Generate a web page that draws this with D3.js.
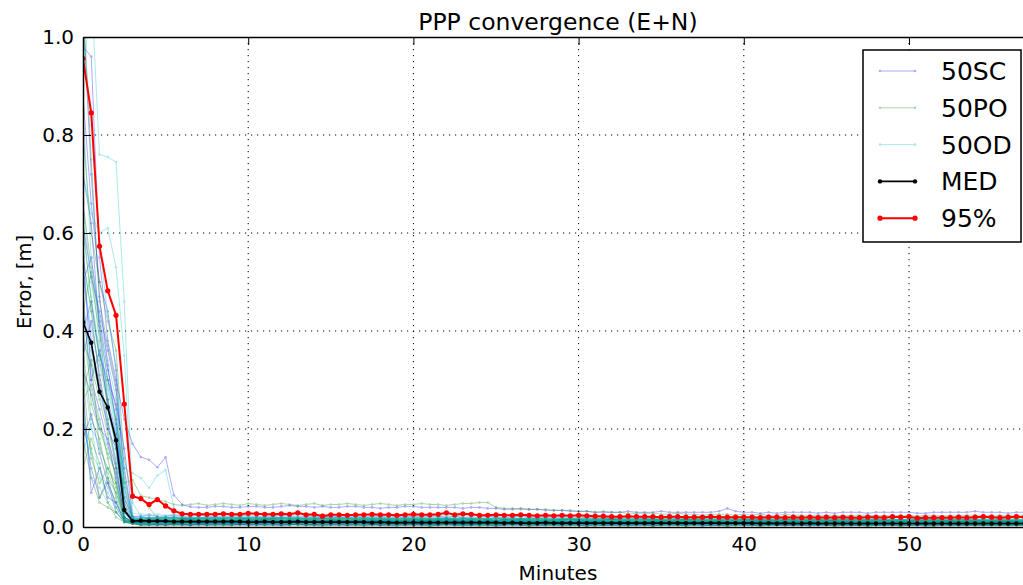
<!DOCTYPE html>
<html>
<head>
<meta charset="utf-8">
<script src="https://cdn.jsdelivr.net/npm/d3@7"></script>
<style>
  body { margin: 0; background: #fff; }
  svg { display: block; font-family: "DejaVu Sans", sans-serif; }
</style>
</head>
<body>
<div id="chart"></div>
<script>
// sampling step of every series, minutes
const step = 0.5;

const xTicks = [0, 10, 20, 30, 40, 50];
const yTicks = [0.0, 0.2, 0.4, 0.6, 0.8, 1.0];
const legendNames = ['50SC', '50PO', '50OD', 'MED', '95%'];

// median of all runs, metres, every 0.5 min from 0
const med = [
  0.418, 0.376, 0.276, 0.244, 0.177, 0.035, 0.012, 0.013, 0.012, 0.012,
  0.012, 0.011, 0.011, 0.011, 0.011, 0.011, 0.011, 0.011, 0.011, 0.011,
  0.010, 0.010, 0.011, 0.010, 0.010, 0.010, 0.011, 0.010, 0.010, 0.010,
  0.010, 0.010, 0.010, 0.010, 0.010, 0.009, 0.010, 0.009, 0.009, 0.009,
  0.009, 0.009, 0.009, 0.009, 0.009, 0.009, 0.009, 0.009, 0.009, 0.009,
  0.009, 0.008, 0.009, 0.008, 0.008, 0.008, 0.009, 0.008, 0.008, 0.008,
  0.008, 0.008, 0.008, 0.008, 0.008, 0.008, 0.008, 0.008, 0.008, 0.008,
  0.008, 0.008, 0.008, 0.008, 0.008, 0.008, 0.008, 0.008, 0.008, 0.008,
  0.008, 0.008, 0.007, 0.008, 0.007, 0.008, 0.007, 0.007, 0.008, 0.007,
  0.007, 0.007, 0.007, 0.007, 0.007, 0.007, 0.007, 0.007, 0.007, 0.007,
  0.007, 0.007, 0.007, 0.007, 0.007, 0.007, 0.007, 0.007, 0.007, 0.007,
  0.007, 0.007, 0.007, 0.007, 0.007, 0.007
];

// 95th percentile, metres
const p95 = [
  0.956, 0.845, 0.573, 0.482, 0.432, 0.251, 0.063, 0.058, 0.046, 0.056,
  0.043, 0.033, 0.027, 0.026, 0.026, 0.026, 0.026, 0.027, 0.026, 0.026,
  0.028, 0.027, 0.026, 0.026, 0.027, 0.026, 0.029, 0.025, 0.026, 0.022,
  0.025, 0.025, 0.024, 0.025, 0.025, 0.026, 0.025, 0.025, 0.024, 0.025,
  0.026, 0.025, 0.025, 0.026, 0.029, 0.025, 0.027, 0.026, 0.024, 0.024,
  0.025, 0.024, 0.024, 0.025, 0.024, 0.023, 0.024, 0.023, 0.024, 0.023,
  0.024, 0.023, 0.022, 0.022, 0.021, 0.021, 0.022, 0.021, 0.021, 0.021,
  0.020, 0.021, 0.021, 0.020, 0.020, 0.020, 0.021, 0.020, 0.020, 0.020,
  0.020, 0.020, 0.019, 0.020, 0.020, 0.019, 0.020, 0.019, 0.020, 0.019,
  0.020, 0.019, 0.020, 0.019, 0.019, 0.020, 0.020, 0.019, 0.021, 0.020,
  0.021, 0.018, 0.019, 0.019, 0.019, 0.019, 0.020, 0.019, 0.020, 0.021,
  0.020, 0.019, 0.020, 0.021, 0.020, 0.019
];

// single runs: first values in metres, then the converged tail
// written one char per sample in base 36, unit = 2 mm
const runsSC = [
  [[0.98, 0.96, 0.55, 0.38, 0.30, 0.22, 0.17, 0.143, 0.137, 0.122, 0.142, 0.065, 0.046, 0.041],
   'kkllkkllkk lmllklkkll kkjkkllkkk kkjkkjjiij iihhhgggff ffgfffgfff fffgjgffef effffefeff fefffffeef ffffgfffef ffffffffff'],
  [[1.05, 0.72, 0.47, 0.33, 0.21, 0.030, 0.016],
   '8787678776 7677687767 6767766776 6676677667 6656676656 6566566566 5656655665 5565565556 5655565565 5556555655 5555555555'],
  [[0.62, 0.51, 0.44, 0.36, 0.28, 0.12, 0.014],
   '5545455454 5454554545 4545545454 4454454544 4445444544 4444544444 4434444434 4444344443 4434444434 4443444344 4444444444'],
  [[0.45, 0.30, 0.24, 0.17, 0.10, 0.020, 0.010],
   '4434434344 3434434433 3343343433 3334333433 3343333343 3333333333 3233332333 3332333323 3323333233 3332333323 3333333333'],
  [[0.35, 0.42, 0.31, 0.22, 0.13, 0.018, 0.009],
   '3332332323 3233233232 2323323232 2232322322 2322232222 2222322222 2222222322 2222222222 2232222222 2222232222 2222222222'],
  [[0.28, 0.07, 0.12, 0.06, 0.05, 0.012, 0.011],
   '6676676767 6767667676 6667667666 6666766666 5666566656 6565656565 5565565556 5556555565 5555655555 5565555556 5555555555'],
  [[0.72, 0.62, 0.40, 0.26, 0.19, 0.060, 0.020],
   'a9a9a99a9a 9a99a99a99 9999a99999 8999899989 8989889898 8888988888 8878887888 7888788787 8787787878 7787787778 7777777777'],
  [[0.52, 0.38, 0.29, 0.20, 0.16, 0.030, 0.008],
   '5655655656 5565565565 5556555655 5555655555 5554555455 5455455454 4545545454 4544545445 4454454444 4544445444 4444444444'],
  [[0.18, 0.23, 0.15, 0.09, 0.03, 0.010, 0.007],
   '2222322222 2232222223 2222222222 2222222222 2221222222 2222122222 2222222212 2222222222 2122222222 2222212222 2222222222'],
  [[0.40, 0.46, 0.35, 0.30, 0.25, 0.16, 0.022],
   'bcbbcbbcbb bbcbbbbcbb bbbabbbabb abababbaba aabaaabaaa aaaaaaaaaa a9aaa9aa9a a9aa9aaa9a 9aa9aa9aa9 a9a9aa9a9a aaaaaaaaaa'],
  [[0.58, 0.30, 0.36, 0.25, 0.18, 0.050, 0.012],
   '4444344434 4434444344 4443444434 4344434443 3443434434 3434343434 3343433434 3343343343 3333433333 3334333333 3333333333'],
  [[0.22, 0.12, 0.06, 0.09, 0.05, 0.012, 0.008],
   '3323332333 3332333233 3233323332 3323232323 2323232322 3232232232 2322322322 2232223222 2222322222 2222222322 2222222222'],
  [[0.88, 0.66, 0.50, 0.44, 0.32, 0.080, 0.016],
   '7877787778 7787778777 7777777777 7677767776 7676767676 6767676766 6676667666 6666766666 6666666566 6566656665 6666666666'],
  [[0.32, 0.27, 0.20, 0.18, 0.12, 0.020, 0.010],
   '5555655555 5655555655 5555555555 5455545554 5454545454 4545454545 4454454544 4445444544 4444544444 4444444544 4444444444'],
  [[0.50, 0.55, 0.42, 0.32, 0.24, 0.030, 0.014],
   '6667666766 6766676667 6666666666 6566656665 6565656565 5656565656 5565556555 5556555565 5555655555 5555565555 5555555555']
];

const runsPO = [
  [[0.55, 0.44, 0.30, 0.21, 0.12, 0.09, 0.096],
   'wusqnmnomn onmonmnonm nomnnonmno nmnnonnmno oppkjjiiii hhhggfgffe eeeddeddcd ddcdcdccdc cccccbcccb cbccbccbcc cccccccccc'],
  [[0.80, 0.60, 0.50, 0.42, 0.36, 0.14, 0.060],
   'uk9a898988 9898898989 8898898888 8888788878 8787787877 7787777877 7777677776 7677767677 6776767767 7676676767 6666666666'],
  [[0.30, 0.14, 0.09, 0.12, 0.08, 0.015, 0.010],
   '4544545445 4454454544 4445444544 4444544443 4344434444 3444434443 4343443434 3434343434 3343433434 3343343343 3333333333'],
  [[0.48, 0.25, 0.20, 0.15, 0.11, 0.030, 0.012],
   '7676676766 6766766676 6666766666 6665666656 6566656565 5656565656 5565556555 5556555565 5555655555 5555565555 5555555555'],
  [[0.22, 0.16, 0.06, 0.10, 0.04, 0.012, 0.008],
   '3334333433 3343334333 3333433333 3333333333 3233333233 3323332332 3232323232 2323232322 3232232232 2322322322 2222222222'],
  [[0.66, 0.53, 0.41, 0.30, 0.22, 0.10, 0.020],
   '8988989898 8898889888 8888888888 7888788878 7877878777 7787777877 7777677776 7677767677 6776767767 6766767676 6666666666'],
  [[1.08, 0.75, 0.46, 0.37, 0.29, 0.040, 0.014],
   '5556555655 5555565555 5455545554 5455454545 4545545454 4544544545 4454454444 4544445444 4444544444 4445444444 4444444444'],
  [[0.12, 0.18, 0.13, 0.05, 0.02, 0.010, 0.006],
   '2222222222 2222222222 2212222122 2222212222 2122222122 2222122212 2212221222 2122212222 2222122212 2212221222 2222222222'],
  [[0.38, 0.33, 0.26, 0.19, 0.09, 0.020, 0.011],
   '7787778777 7777877777 7777777677 7677767776 7676767676 6767676766 6676667666 6666766666 6566656666 6656665666 6666666666'],
  [[0.26, 0.29, 0.22, 0.14, 0.06, 0.014, 0.009],
   '9999a99999 99a9999a99 9999999999 9899989899 8989898988 8898889888 8888888888 8878887888 8787878787 7877878778 7777777777'],
  [[0.36, 0.22, 0.18, 0.10, 0.07, 0.020, 0.010],
   '4445444454 4454445444 4444444444 4344434443 4343434343 3434343434 3343433434 3343343343 3333433333 3333334333 3333333333'],
  [[0.18, 0.10, 0.05, 0.04, 0.03, 0.010, 0.007],
   '2232222322 2222322223 2222222222 2122212221 2221222122 2122212221 2212221222 2122212222 2222122212 2212221222 2222222222'],
  [[0.62, 0.46, 0.34, 0.26, 0.16, 0.035, 0.012],
   '6676667666 6667666766 6666666666 6566656665 6566565656 5656565656 5565556555 5556555565 5555655555 5555565555 5555555555'],
  [[0.44, 0.52, 0.38, 0.24, 0.17, 0.060, 0.015],
   '8898889888 8889888988 8888888888 8788878887 8787878787 7878787877 7787778777 7777877777 7777777677 7677767776 7777777777'],
  [[0.28, 0.34, 0.16, 0.12, 0.09, 0.015, 0.009],
   '5565556555 5556555655 5555555555 5455545554 5454545454 4545454545 4454454544 4445444544 4444544444 4444444544 4444444444']
];

const runsOD = [
  [[0.90, 1.10, 0.76, 0.755, 0.745, 0.46, 0.050],
   'b98a9a99a9 a99a9a99a9 9a99a9a99a 9999a99999 9899989899 8989898988 8898889888 8888888888 8878887888 8787878787 8888888888'],
  [[0.72, 0.64, 0.60, 0.61, 0.53, 0.35, 0.028],
   'dddcdcdddc dcdcddcdcd ccdcccdccc cbccbcccbc bcbbcbbcbb bbbcbbbbbb bbabbbabbb babbabbabb abbabababb aababaabaa aaaaaaaaaa'],
  [[0.52, 0.40, 0.33, 0.25, 0.18, 0.12, 0.11, 0.10, 0.08, 0.105, 0.116, 0.040],
   'a9a9a9aa9a 9a9aa9a9a9 99a999a999 9899989899 8989898988 8898889888 8888888888 8878887888 8787878787 7877878778 7777777777'],
  [[0.42, 0.36, 0.27, 0.21, 0.14, 0.030, 0.012],
   '6666766666 6676666766 6666666666 6566656665 6566565656 5656565656 5565556555 5556555565 5555655555 5555565555 5555555555'],
  [[0.33, 0.20, 0.17, 0.11, 0.07, 0.016, 0.010],
   '5555455555 5455554555 5545554555 4555455545 4545454545 4454454544 4445444544 4444544444 4444445444 4444444544 4444444444'],
  [[0.60, 0.47, 0.36, 0.28, 0.20, 0.050, 0.015],
   '8889888988 8988898888 8888888888 8788878887 8787877878 7787778777 7777877777 7777777677 7677767776 7676767676 7777777777'],
  [[0.25, 0.10, 0.08, 0.05, 0.03, 0.012, 0.009],
   '4444444454 4445444444 4444444444 4344434443 4343434434 3434343434 3343433434 3343343343 3333433333 3333334333 3333333333'],
  [[0.85, 0.55, 0.43, 0.34, 0.26, 0.080, 0.018],
   '7777877777 7787777787 7777777777 7677767776 7677676767 6767676766 6676667666 6666766666 6666666566 6566656665 6666666666'],
  [[0.46, 0.34, 0.28, 0.24, 0.16, 0.040, 0.014],
   'aaaabaaaaa aabaaaabaa aaaaaaaaaa 9aaa9aaa9a 9a9a9a9a99 9999a99999 9899989899 8989898988 8898889888 8888888888 8888888888'],
  [[0.15, 0.21, 0.10, 0.07, 0.04, 0.011, 0.008],
   '3333343333 3343333333 3333333333 3233323332 3323323232 3232323232 2323232322 3232232232 2322322322 2232223222 2222222222'],
  [[0.40, 0.28, 0.21, 0.16, 0.11, 0.020, 0.011],
   '5556555655 5565556555 5555555555 5455545554 5545454545 4545454545 4454454544 4445444544 4444544444 4444444544 4444444444'],
  [[0.66, 0.50, 0.40, 0.30, 0.22, 0.070, 0.017],
   '9a999a9999 99a999a999 9999999999 9899989998 8989898989 8898889888 8888888888 8878887888 8787878787 7877878778 8888888888'],
  [[0.20, 0.15, 0.12, 0.08, 0.05, 0.013, 0.008],
   '3334333433 3343334333 3333333333 3233323332 3232323232 2323232323 2232223222 2223222232 2222322222 2222222322 2222222222'],
  [[0.55, 0.44, 0.35, 0.29, 0.21, 0.090, 0.020],
   '7778777877 7787778777 7777777777 7677767776 7676767676 6767676766 6676667666 6666766666 6666666566 6566656665 6666666666'],
  [[1.02, 0.82, 0.58, 0.43, 0.33, 0.11, 0.016],
   '6667666766 6676667666 6666666666 6566656665 6565656565 5656565656 5565556555 5556555565 5555655555 5555565555 5555555555']
];

const decodeRun = run => {
  const tail = run[1].replace(/ /g, '').split('').map(c => parseInt(c, 36) * 0.002);
  return run[0].concat(tail);
};

const W = 1023, H = 585;
const margin = {left: 83, top: 37, bottom: 58};
const tMax = 57.5;

const svg = d3.select('#chart')
  .append('svg')
  .attr('width', W)
  .attr('height', H);

const x = d3.scaleLinear().domain([0, tMax]).range([margin.left, margin.left + tMax * 16.52]);
const y = d3.scaleLinear().domain([0, 1]).range([H - margin.bottom, margin.top]);

const x0 = x.range()[0], x1 = x.range()[1];
const y0 = y.range()[0], y1 = y.range()[1];

svg.append('defs').append('clipPath').attr('id', 'plotclip')
  .append('rect')
  .attr('x', x0).attr('y', y1)
  .attr('width', x1 - x0).attr('height', y0 - y1);

// grid
const grid = svg.append('g')
  .attr('stroke', '#000')
  .attr('stroke-width', 1)
  .attr('stroke-dasharray', '1.2,4.8');
grid.selectAll('.gx').data(xTicks.slice(1)).enter().append('line')
  .attr('x1', d => x(d)).attr('x2', d => x(d))
  .attr('y1', y1).attr('y2', y0);
grid.selectAll('.gy').data(yTicks.slice(1, -1)).enter().append('line')
  .attr('x1', x0).attr('x2', x1)
  .attr('y1', d => y(d)).attr('y2', d => y(d));

const line = d3.line()
  .x((d, i) => x(i * step))
  .y(d => y(d));

const plot = svg.append('g').attr('clip-path', 'url(#plotclip)');

const drawRuns = (runs, color) => {
  runs.forEach(run => {
    const vals = decodeRun(run).filter((d, i) => i * step <= tMax);
    const g = plot.append('g').attr('opacity', 0.32);
    g.append('path')
      .datum(vals)
      .attr('d', line)
      .attr('fill', 'none')
      .attr('stroke', color)
      .attr('stroke-width', 1);
    g.selectAll('circle').data(vals).enter().append('circle')
      .attr('cx', (d, i) => x(i * step))
      .attr('cy', d => y(d))
      .attr('r', 1.3)
      .attr('fill', color);
  });
};

drawRuns(runsSC, '#0000ff');
drawRuns(runsPO, '#008000');
drawRuns(runsOD, '#00bfbf');

const drawStat = (vals, color, width, r) => {
  plot.append('path')
    .datum(vals)
    .attr('d', line)
    .attr('fill', 'none')
    .attr('stroke', color)
    .attr('stroke-width', width);
  plot.append('g').selectAll('circle').data(vals).enter().append('circle')
    .attr('cx', (d, i) => x(i * step))
    .attr('cy', d => y(d))
    .attr('r', r)
    .attr('fill', color);
};

drawStat(med, '#000', 1.6, 2.2);
drawStat(p95, '#ff0000', 2, 2.6);

// axes, ticks pointing inside
const bottomAxis = d3.axisBottom(x).tickValues(xTicks).tickFormat(d3.format('d'))
  .tickSizeInner(-8).tickSizeOuter(0).tickPadding(10);
const topAxis = d3.axisTop(x).tickValues(xTicks).tickFormat('')
  .tickSizeInner(-8).tickSizeOuter(0);
const leftAxis = d3.axisLeft(y).tickValues(yTicks).tickFormat(d3.format('.1f'))
  .tickSizeInner(-8).tickSizeOuter(0).tickPadding(9);

const gb = svg.append('g').attr('transform', `translate(0,${y0})`).call(bottomAxis);
const gt = svg.append('g').attr('transform', `translate(0,${y1})`).call(topAxis);
const gl = svg.append('g').attr('transform', `translate(${x0},0)`).call(leftAxis);

[gb, gt, gl].forEach(g => {
  g.selectAll('.domain').attr('stroke', '#000').attr('stroke-width', 1.5);
  g.selectAll('.tick line').attr('stroke', '#000').attr('stroke-width', 1);
  g.selectAll('text')
    .attr('fill', '#000')
    .attr('font-family', 'DejaVu Sans')
    .attr('font-size', 20);
});

// title and labels
svg.append('text')
  .attr('x', (x0 + x1) / 2).attr('y', 30)
  .attr('text-anchor', 'middle')
  .attr('font-size', 23.5)
  .text('PPP convergence (E+N)');

svg.append('text')
  .attr('x', (x0 + x1) / 2).attr('y', 580)
  .attr('text-anchor', 'middle')
  .attr('font-size', 20)
  .text('Minutes');

svg.append('text')
  .attr('transform', `translate(31,${(y0 + y1) / 2}) rotate(-90)`)
  .attr('text-anchor', 'middle')
  .attr('font-size', 19.5)
  .text('Error, [m]');

// legend
const legendColors = ['#0000ff', '#008000', '#00bfbf', '#000', '#ff0000'];
const legendWidths = [1, 1, 1, 1.6, 2];
const legendAlpha = [0.32, 0.32, 0.32, 1, 1];
const legendR = [1.3, 1.3, 1.3, 2.2, 2.6];

const lg = svg.append('g').attr('transform', 'translate(863,50)');
lg.append('rect')
  .attr('width', 158).attr('height', 192)
  .attr('fill', '#fff')
  .attr('stroke', '#000')
  .attr('stroke-width', 1.5);

legendNames.forEach((name, i) => {
  const yy = 21 + i * 36.8;
  const item = lg.append('g').attr('opacity', legendAlpha[i]);
  item.append('line')
    .attr('x1', 17).attr('x2', 52)
    .attr('y1', yy).attr('y2', yy)
    .attr('stroke', legendColors[i])
    .attr('stroke-width', legendWidths[i]);
  [17, 52].forEach(cx => item.append('circle')
    .attr('cx', cx).attr('cy', yy).attr('r', legendR[i])
    .attr('fill', legendColors[i]));
  lg.append('text')
    .attr('x', 78).attr('y', yy + 9)
    .attr('font-size', 25)
    .text(name);
});
</script>
</body>
</html>
